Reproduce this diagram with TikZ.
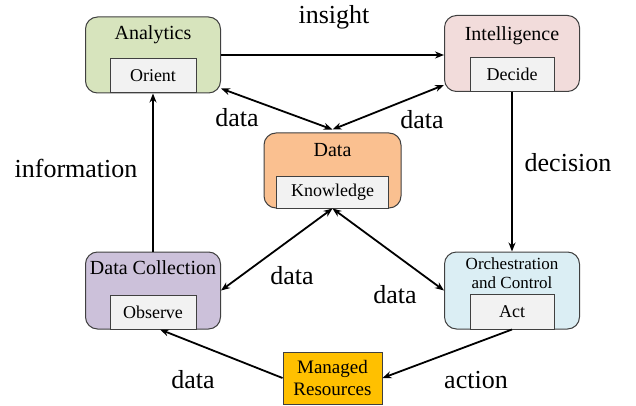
\documentclass[tikz,border=0pt]{standalone}
\usepackage{fontspec}
\setmainfont{LiberationSerif}[Extension=.ttf, UprightFont=*-Regular, BoldFont=*-Bold]
\usepackage{xcolor}
\usepackage{tikz}
\usetikzlibrary{positioning, arrows.meta}

\definecolor{analyticsgreen}{HTML}{D7E4BD}
\definecolor{intelpink}{HTML}{F2DCDB}
\definecolor{dataorange}{HTML}{FAC090}
\definecolor{collectpurple}{HTML}{CCC1DA}
\definecolor{orchblue}{HTML}{DBEEF4}
\definecolor{innergray}{HTML}{F2F2F2}
\definecolor{resourcegold}{HTML}{FFC000}
\definecolor{boxline}{HTML}{404040}

\tikzset{
    stagebox/.style={draw=boxline, line width=1pt, rounded corners=12pt, minimum width=135pt, minimum height=76pt},
    innerbox/.style={draw=boxline, line width=1pt, fill=innergray, minimum width=86pt, minimum height=34pt, anchor=south, font=\fontsize{18}{20}\selectfont},
    stagetitle/.style={anchor=north, font=\fontsize{20}{22}\selectfont, inner sep=2pt},
    flowlabel/.style={font=\fontsize{26}{28}\selectfont},
    flow/.style={line width=1.8pt, -{Stealth[length=9pt,width=7pt]}},
    twoway/.style={line width=1.8pt, {Stealth[length=9pt,width=7pt]}-{Stealth[length=9pt,width=7pt]}}
}

\begin{document}
\begin{tikzpicture}[x=1pt, y=-1pt]
\useasboundingbox (0,0) rectangle (636,406);

\node [stagebox, fill=analyticsgreen] (analytics) at (153,55) {};
\node [stagebox, fill=intelpink] (intelligence) at (512,53.5) {};
\node [stagebox, fill=dataorange, minimum width=137pt, minimum height=75pt] (data) at (332.5,170.5) {};
\node [stagebox, fill=collectpurple, minimum height=77pt] (collection) at (153,290.5) {};
\node [stagebox, fill=orchblue, minimum height=77pt] (orchestration) at (512,290.5) {};
\node [draw=boxline, line width=1pt, fill=resourcegold, minimum width=99pt, minimum height=52pt,
      align=center, font=\fontsize{19}{22}\selectfont] (managed) at (332.5,378) {Managed\\Resources};

\node [stagetitle, below=7pt of analytics.north] (analyticstitle) {Analytics};
\node [stagetitle, below=9pt of intelligence.north] (intelligencetitle) {Intelligence};
\node [stagetitle, below=9pt of data.north] (datatitle) {Data};
\node [stagetitle, below=7pt of collection.north] (collectiontitle) {Data Collection};
\node [stagetitle, below=4pt of orchestration.north, align=center, font=\fontsize{17}{19.5}\selectfont] (orchestrationtitle) {Orchestration\\and Control};

\node [innerbox] (orient) at (analytics.south) {Orient};
\node [innerbox, minimum width=84pt] (decide) at (intelligence.south) {Decide};
\node [innerbox, minimum width=112pt, minimum height=32pt] (knowledge) at (data.south) {Knowledge};
\node [innerbox] (observe) at (collection.south) {Observe};
\node [innerbox, minimum width=84pt, minimum height=35pt] (act) at (orchestration.south) {Act};

\draw [flow] (analytics.east) -- (analytics.east -| intelligence.west);
\draw [flow] (collection.north) -- (analytics.south);
\draw [flow] (intelligence.south) -- (orchestration.north);
\draw [twoway] ([yshift=5pt]analytics.south east) -- ([yshift=3pt]data.north);
\draw [twoway] ([yshift=7pt]intelligence.south west) -- ([yshift=3pt]data.north);
\draw [twoway] (data.south) -- (collection.east);
\draw [twoway] (data.south) -- (orchestration.west);
\draw [flow] (orchestration.south) -- (managed.east);
\draw [flow] (managed.west) -- ([xshift=7pt]collection.south);

\node [flowlabel] (insightlabel) at (334,17) {insight};
\node [flowlabel] (datalabela) at (237,118) {data};
\node [flowlabel] (datalabelb) at (422,120) {data};
\node [flowlabel] (informationlabel) at (76,168) {information};
\node [flowlabel] (decisionlabel) at (568,163) {decision};
\node [flowlabel] (datalabelc) at (292,276) {data};
\node [flowlabel] (datalabeld) at (395,295) {data};
\node [flowlabel] (datalabele) at (193,380) {data};
\node [flowlabel] (actionlabel) at (476,380) {action};
\end{tikzpicture}
\end{document}
